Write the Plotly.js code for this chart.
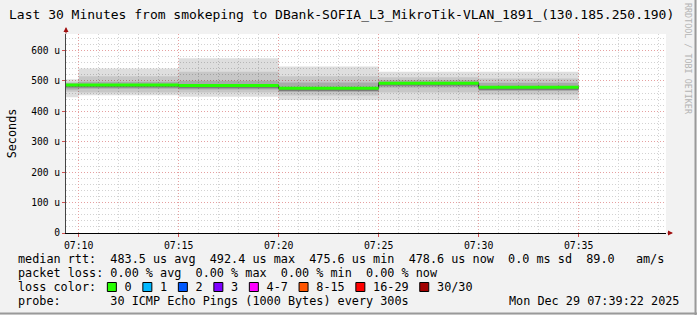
<!DOCTYPE html>
<html>
<head>
<meta charset="utf-8">
<script src="https://cdn.plot.ly/plotly-3.0.1.min.js"></script>
<style>html,body{margin:0;padding:0;background:#f2f2f2;}#chart{width:697px;height:315px;}</style>
</head>
<body>
<div id="chart"></div>
<script>
// ---------- data ----------
const segStarts = ['2025-12-29 07:05:00','2025-12-29 07:10:00','2025-12-29 07:15:00','2025-12-29 07:20:00','2025-12-29 07:25:00','2025-12-29 07:30:00'];
const lastSegEnd = '2025-12-29 07:35:00';
const rttMedian = [486.0, 486.5, 484.5, 475.6, 492.4, 478.6];
const rttMax    = [505, 541, 574, 547, 530, 530];
const rttP90    = [497, 515, 530, 515, 512, 508];
const rttP75    = [492, 497, 500, 495, 502, 494];
const rttP60    = [489, 490, 488, 479, 496, 482];
const rttP40    = [478, 478, 476, 467, 484, 470];
const rttP25    = [472, 474, 472, 463, 478, 467];
const rttP10    = [464, 462, 462, 452, 462, 455];
const rttMin    = [446, 453, 448, 437, 437, 437];

const yTickVals   = [0, 100, 200, 300, 400, 500, 600];
const yTickLabels = ['0', '100 u', '200 u', '300 u', '400 u', '500 u', '600 u'];

const medianStats = [483.5, 492.4, 475.6, 478.6];
const lossStats   = [0.00, 0.00, 0.00, 0.00];
const statNames   = ['avg', 'max', 'min', 'now'];
const sdMs = 0.0;
const amPerSec = 89.0;
const lossLabels = ['0', '1', '2', '3', '4-7', '8-15', '16-29', '30/30'];
const lossColors = ['#26ff00', '#00b8ff', '#0059ff', '#7e00ff', '#ff00ff', '#ff5500', '#ff0000', '#a10000'];
const probeText = '30 ICMP Echo Pings (1000 Bytes) every 300s';
const stampText = 'Mon Dec 29 07:39:22 2025';
const titleText = 'Last 30 Minutes from smokeping to DBank-SOFIA_L3_MikroTik-VLAN_1891_(130.185.250.190)';

// ---------- helpers ----------
const MONO = 'DejaVu Sans Mono';
const PL = 66, PR = 666, PT = 34, PB = 233;
const px2x = p => (p - PL) / (PR - PL);
const py2y = p => (PB - p) / (PB - PT);
const nb = s => s.replace(/ /g, '\u00a0');
const stepX = segStarts.concat([lastSegEnd]);
const stepY = arr => arr.concat([arr[arr.length - 1]]);

const traces = [];
function band(lo, hi, color) {
  traces.push({x: stepX, y: stepY(lo), type: 'scatter', mode: 'lines', line: {width: 0, shape: 'hv'}, hoverinfo: 'skip', showlegend: false});
  traces.push({x: stepX, y: stepY(hi), type: 'scatter', mode: 'lines', line: {width: 0, shape: 'hv'}, fill: 'tonexty', fillcolor: color, hoverinfo: 'skip', showlegend: false});
}
band(rttMin, rttMax, 'rgba(0,0,0,0.13)');
band(rttP10, rttP90, 'rgba(0,0,0,0.10)');
band(rttP25, rttP75, 'rgba(0,0,0,0.15)');
band(rttP40, rttP60, 'rgba(0,0,0,0.28)');

// dark connecting median line
traces.push({x: stepX, y: stepY(rttMedian), type: 'scatter', mode: 'lines', line: {width: 1, shape: 'hv', color: '#222'}, showlegend: false});
// green median segments
const gx = [], gy = [];
segStarts.forEach((s, i) => {
  const e = i + 1 < segStarts.length ? segStarts[i + 1] : lastSegEnd;
  gx.push(s, e, null); gy.push(rttMedian[i], rttMedian[i], null);
});
traces.push({x: gx, y: gy, type: 'scatter', mode: 'lines', line: {width: 3, color: lossColors[0]}, connectgaps: false, showlegend: false});

// ---------- legend text ----------
const CW = 7.1, LX = 16;
const fnt = {family: MONO, size: 11.8, color: '#000'};
let row1 = 'median rtt:  ' + medianStats.map((v, i) => v.toFixed(1) + ' us ' + statNames[i]).join('  ') + '  ' + sdMs.toFixed(1) + ' ms sd  ' + amPerSec.toFixed(1) + '   am/s';
let row2 = 'packet loss: ' + lossStats.map((v, i) => v.toFixed(2) + ' % ' + statNames[i]).join('  ');
let row3 = 'loss color:';
const squares = [];
lossLabels.forEach((lab, i) => {
  row3 += '  ';
  squares.push({col: row3.length, color: lossColors[i]});
  row3 += '  ' + lab;
});
const row4 = 'probe:       ' + probeText;

const ann = [];
function addText(t, px, py, anchor, f) {
  ann.push({xref: 'paper', yref: 'paper', x: px2x(px), y: py2y(py), xanchor: anchor || 'left', yanchor: 'middle', text: nb(t), showarrow: false, font: f || fnt});
}
addText(row1, LX, 259);
addText(row2, LX, 273);
addText(row3, LX, 287);
addText(row4, LX, 301);
addText(stampText, 681, 301, 'right');
ann.push({xref: 'paper', yref: 'paper', x: px2x(688), y: py2y(59), xanchor: 'center', yanchor: 'middle', text: nb('RRDTOOL / TOBI OETIKER'), textangle: 90, showarrow: false, font: {family: MONO, size: 8.4, color: '#b4b4b4'}});
// axis arrows
ann.push({xref: 'paper', yref: 'paper', x: 0, y: py2y(27), ax: 0, ay: 8, text: '', showarrow: true, arrowhead: 2, arrowsize: 1, arrowwidth: 1, arrowcolor: '#a01010', standoff: 0});
ann.push({xref: 'paper', yref: 'paper', x: px2x(673), y: 0, ax: -7, ay: 0, text: '', showarrow: true, arrowhead: 2, arrowsize: 1, arrowwidth: 1, arrowcolor: '#a01010', standoff: 0});

const shapes = squares.map(s => {
  const cx = LX + s.col * CW + CW / 2;
  return {type: 'rect', xref: 'paper', yref: 'paper', x0: px2x(cx - 4.5), x1: px2x(cx + 4.5), y0: py2y(291.5), y1: py2y(282.5), fillcolor: s.color, line: {color: '#000', width: 1}};
});
shapes.push({type: 'line', xref: 'paper', yref: 'paper', x0: px2x(695.5), x1: px2x(695.5), y0: py2y(0), y1: py2y(315), line: {color: '#9a9a9a', width: 2}});
shapes.push({type: 'line', xref: 'paper', yref: 'paper', x0: px2x(0), x1: px2x(697), y0: py2y(313.5), y1: py2y(313.5), line: {color: '#9a9a9a', width: 2}});

const layout = {
  width: 697, height: 315,
  margin: {l: PL, r: 697 - PR, t: PT, b: 315 - PB, pad: 0},
  paper_bgcolor: '#f2f2f2', plot_bgcolor: '#ffffff',
  showlegend: false,
  title: {text: titleText, x: 9 / 697, xanchor: 'left', xref: 'container', y: 1 - 14 / 315, yanchor: 'middle', yref: 'container', font: {family: MONO, size: 13, color: '#000'}},
  xaxis: {
    type: 'date', range: ['2025-12-29 07:09:22', '2025-12-29 07:39:22'],
    tick0: '2025-12-29 07:10:00', dtick: 300000, tickformat: '%H:%M',
    showgrid: true, gridcolor: '#e6a0a0', griddash: '1px,2px', gridwidth: 1,
    ticks: 'outside', ticklen: 3, tickcolor: '#d05050',
    tickfont: {family: MONO, size: 9.8, color: '#000'},
    showline: true, linecolor: '#000', linewidth: 1, zeroline: false,
    minor: {dtick: 60000, showgrid: true, gridcolor: '#d2d2d2', griddash: '1px,2px', gridwidth: 1},
    fixedrange: true
  },
  yaxis: {
    range: [0, 654],
    tickvals: yTickVals, ticktext: yTickLabels,
    showgrid: true, gridcolor: '#e6a0a0', griddash: '1px,2px', gridwidth: 1,
    ticks: 'outside', ticklen: 3, tickcolor: '#d05050',
    tickfont: {family: MONO, size: 9.6, color: '#000'},
    showline: true, linecolor: '#444', linewidth: 1, zeroline: false,
    minor: {dtick: 20, showgrid: true, gridcolor: '#d2d2d2', griddash: '1px,2px', gridwidth: 1},
    title: {text: 'Seconds', font: {family: MONO, size: 11.8, color: '#000'}, standoff: 12},
    fixedrange: true
  },
  annotations: ann,
  shapes: shapes
};

Plotly.newPlot('chart', traces, layout, {displayModeBar: false, staticPlot: true});
</script>
</body>
</html>
